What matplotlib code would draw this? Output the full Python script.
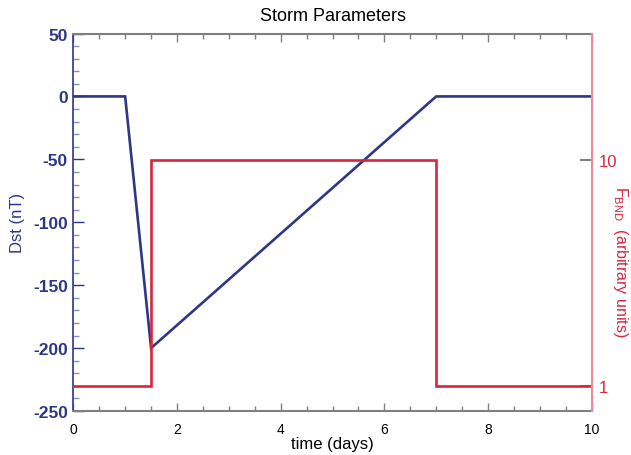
import matplotlib
matplotlib.use("Agg")
import matplotlib.pyplot as plt
from matplotlib.ticker import FixedLocator, MultipleLocator, NullLocator

plt.rcParams['font.family'] = ['Liberation Sans', 'DejaVu Sans']

# Data
dst_time = [0, 1.0, 1.5, 7.0, 10]
dst_vals = [0, 0, -200, 0, 0]
f_time = [0, 1.5, 1.5, 7.0, 7.0, 10]
f_vals = [1, 1, 10, 10, 1, 1]
x_ticks = [0, 2, 4, 6, 8, 10]
dst_ticks = [50, 0, -50, -100, -150, -200, -250]
f_ticks = [1, 10]

navy = '#2d3784'
red = '#d7263d'
pink = '#ec8a96'
gray = '#7f7f7f'

fig = plt.figure(figsize=(6.31, 4.56), dpi=100)
ax = fig.add_axes([0.1162, 0.0965, 0.8215, 0.8278])
ax.plot(dst_time, dst_vals, color=navy, lw=1.9, solid_joinstyle='miter')
ax.set_xlim(0, 10)
ax.set_ylim(-250, 50)
ax.set_xticks(x_ticks)
ax.set_xticklabels([str(v) for v in x_ticks], fontsize=10, color='black')
ax.xaxis.set_minor_locator(MultipleLocator(0.5))
ax.set_yticks(dst_ticks)
ax.set_yticklabels([str(v) for v in dst_ticks], fontsize=12.5, fontweight='bold', color=navy)
ax.yaxis.set_minor_locator(MultipleLocator(10))
ax.tick_params(axis='x', which='major', direction='in', length=6, width=1, color=gray, top=True, pad=8)
ax.tick_params(axis='x', which='minor', direction='in', length=3.5, width=1, color=gray, top=True)
ax.tick_params(axis='y', which='major', direction='in', length=8, width=1, color=navy, pad=4)
ax.tick_params(axis='y', which='minor', direction='in', length=4, width=1, color='#8a8fbf')
ax.spines['left'].set_color(navy)
ax.spines['left'].set_linewidth(1.2)
ax.spines['right'].set_visible(False)
for s in ['top', 'bottom']:
    ax.spines[s].set_color(gray)
    ax.spines[s].set_linewidth(1.5)
ax.set_xlabel('time (days)', fontsize=12, labelpad=0)
ax.set_ylabel('Dst (nT)', fontsize=12, color=navy, labelpad=6)
ax.set_title('Storm Parameters', fontsize=13, pad=10)

ax2 = ax.twinx()
ax2.plot(f_time, f_vals, color=red, lw=1.9, solid_joinstyle='miter')
ax2.set_yscale('log')
ax2.set_ylim(0.778, 36.3)
ax2.yaxis.set_major_locator(FixedLocator(f_ticks))
ax2.yaxis.set_minor_locator(NullLocator())
ax2.set_yticklabels([str(v) for v in f_ticks], fontsize=12, color=red)
ax2.tick_params(axis='y', which='major', direction='in', length=9, width=1.5, color=gray, pad=5)
for s in ['left', 'top', 'bottom']:
    ax2.spines[s].set_visible(False)
ax2.spines['right'].set_color(pink)
ax2.spines['right'].set_linewidth(1.5)
ax2.set_ylabel('F$_{\\mathregular{BND}}$  (arbitrary units)', fontsize=11.5, color=red,
               rotation=270, va='center', ha='center')
ax2.yaxis.set_label_coords(1.055, 0.397)

fig.savefig('out.png', dpi=100)
